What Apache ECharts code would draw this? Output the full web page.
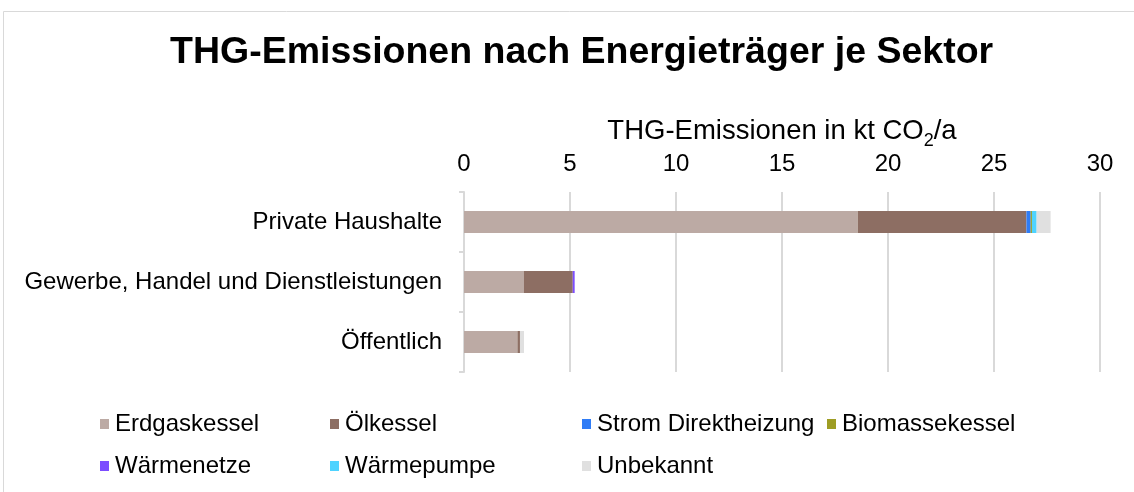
<!DOCTYPE html>
<html><head><meta charset="utf-8">
<script src="https://cdn.jsdelivr.net/npm/echarts@6/dist/echarts.min.js"></script>
<style>html,body{margin:0;padding:0;background:#fff}#c{width:1134px;height:492px}</style>
</head><body><div id="c"></div>
<script>
const categories = ['Private Haushalte', 'Gewerbe, Handel und Dienstleistungen', 'Öffentlich'];
const seriesNames = ['Erdgaskessel', 'Ölkessel', 'Strom Direktheizung', 'Biomassekessel', 'Wärmenetze', 'Wärmepumpe', 'Unbekannt'];
const erdgaskessel = [18.58, 2.83, 2.52];
const oelkessel = [7.95, 2.30, 0.12];
const stromDirekt = [0.20, 0, 0];
const biomasse = [0.06, 0, 0];
const waermenetze = [0, 0.09, 0];
const waermepumpe = [0.22, 0, 0];
const unbekannt = [0.66, 0, 0.19];
const xTicks = [0, 5, 10, 15, 20, 25, 30];
const colors = ['#bcaaa4', '#8d6e63', '#2f7cf6', '#9e9d24', '#7c4dff', '#4fd3ff', '#e0e0e0'];
const values = [erdgaskessel, oelkessel, stromDirekt, biomasse, waermenetze, waermepumpe, unbekannt];

const legendPos = [[100, 412], [330, 412], [582, 412], [827, 412], [100, 454], [330, 454], [582, 454]];
const FONT = 'Liberation Sans, Arial, sans-serif';

const chart = echarts.init(document.getElementById('c'), null, {renderer: 'canvas'});
chart.setOption({
  animation: false,
  backgroundColor: '#fff',
  graphic: [{
    type: 'polyline', shape: {points: [[3.5, 500], [3.5, 11.5], [1140, 11.5]]},
    style: {stroke: '#d9d9d9', lineWidth: 1, fill: null}
  }],
  title: {
    text: 'THG-Emissionen nach Energieträger je Sektor',
    left: 165, top: 29,
    textStyle: {fontFamily: FONT, fontWeight: 'bold', fontSize: 37.5, color: '#000'}
  },
  legend: legendPos.map((p, i) => ({
    data: [seriesNames[i]], left: p[0], top: p[1], padding: 0,
    itemWidth: 9, itemHeight: 10, icon: 'rect', itemGap: 0,
    textStyle: {fontFamily: FONT, fontSize: 24, color: '#000', padding: [0, 0, 0, 1]}
  })),
  grid: {left: 464, right: 34, top: 192, bottom: 120, containLabel: false},
  xAxis: {
    type: 'value', position: 'top', min: 0, max: 30, interval: 5,
    name: '{a|THG-Emissionen in kt CO}{s|2}{a|/a}',
    nameLocation: 'middle', nameGap: 42,
    nameTextStyle: {rich: {
      a: {fontFamily: FONT, fontSize: 27.5, color: '#000'},
      s: {fontFamily: FONT, fontSize: 18, color: '#000', verticalAlign: 'bottom', padding: [20, 0, 0, 0]}
    }},
    axisLine: {show: false}, axisTick: {show: false},
    axisLabel: {fontFamily: FONT, fontSize: 24, color: '#000', margin: 16},
    splitLine: {lineStyle: {color: '#d9d9d9', width: 2}}
  },
  yAxis: {
    type: 'category', data: categories, inverse: true,
    axisLine: {show: true, lineStyle: {color: '#d9d9d9', width: 2}},
    axisTick: {show: true, length: 5, lineStyle: {color: '#d9d9d9', width: 2}},
    axisLabel: {fontFamily: FONT, fontSize: 24, color: '#000', margin: 22}
  },
  series: seriesNames.map((n, i) => ({
    name: n, type: 'bar', stack: 'total', data: values[i], barWidth: 22,
    itemStyle: {color: colors[i]}
  }))
});
</script></body></html>
